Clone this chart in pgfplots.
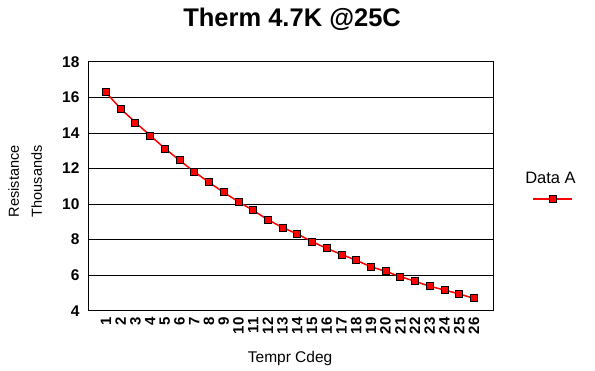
\documentclass[border=0pt]{standalone}
\usepackage{pgfplots}
\pgfplotsset{compat=1.18}
\usepackage{fontspec}
\setmainfont{Liberation Sans}
\begin{document}
\begin{tikzpicture}
\useasboundingbox (0,0) rectangle (595pt,371pt);
\begin{axis}[
  at={(88pt,60.2pt)}, anchor=south west,
  scale only axis, width=405pt, height=249pt,
  xmin=-0.22, xmax=27.3, ymin=4, ymax=18,
  xtick={1,...,26},
  ytick={4,6,...,18},
  major tick length=0pt,
  ymajorgrids, grid style={black, line width=0.8pt},
  axis line style={black, line width=0.8pt},
  /pgf/number format/assume math mode=true,
  xticklabel style={rotate=90, anchor=east, font=\fontsize{15}{15}\selectfont\bfseries, xshift=-3pt},
  yticklabel style={font=\fontsize{15.5}{16}\selectfont\bfseries, xshift=-5pt},
  title={\fontsize{25.5}{28}\selectfont\bfseries Therm 4.7K @25C},
  title style={at={(axis description cs:0.504,1.148)}, anchor=center},
  xlabel={Tempr Cdeg},
  xlabel style={font=\fontsize{15.5}{17}\selectfont, at={(axis description cs:0.499,-0.19)}, anchor=center},
  ylabel={Resistance\\Thousands},
  ylabel style={font=\fontsize{14.5}{23}\selectfont, align=center, at={(axis description cs:-0.155,0.52)}, anchor=center},
  legend style={at={(axis description cs:1.142,0.53)}, anchor=center, draw=none, fill=none, font=\fontsize{16.5}{19}\selectfont},
  legend image code/.code={%
    \begin{pgfinterruptboundingbox}
    \draw[mark repeat=2,mark phase=2,#1,xshift=10pt,yshift=-20pt] plot coordinates {(0pt,0pt) (19.5pt,0pt) (39pt,0pt)};
    \end{pgfinterruptboundingbox}},
]
\addplot[red, line width=1.5pt, mark=square*, mark size=3.5pt, mark options={fill=red, draw=black, line width=0.8pt}]
coordinates {
(1,16.28) (2,15.36) (3,14.59) (4,13.86) (5,13.13) (6,12.46) (7,11.82) (8,11.22) (9,10.66) (10,10.13)
(11,9.65) (12,9.12) (13,8.68) (14,8.32) (15,7.89) (16,7.51) (17,7.17) (18,6.84) (19,6.48) (20,6.22)
(21,5.92) (22,5.66) (23,5.38) (24,5.17) (25,4.95) (26,4.70)
};
\addlegendentry{Data A}
\end{axis}
\end{tikzpicture}
\end{document}
